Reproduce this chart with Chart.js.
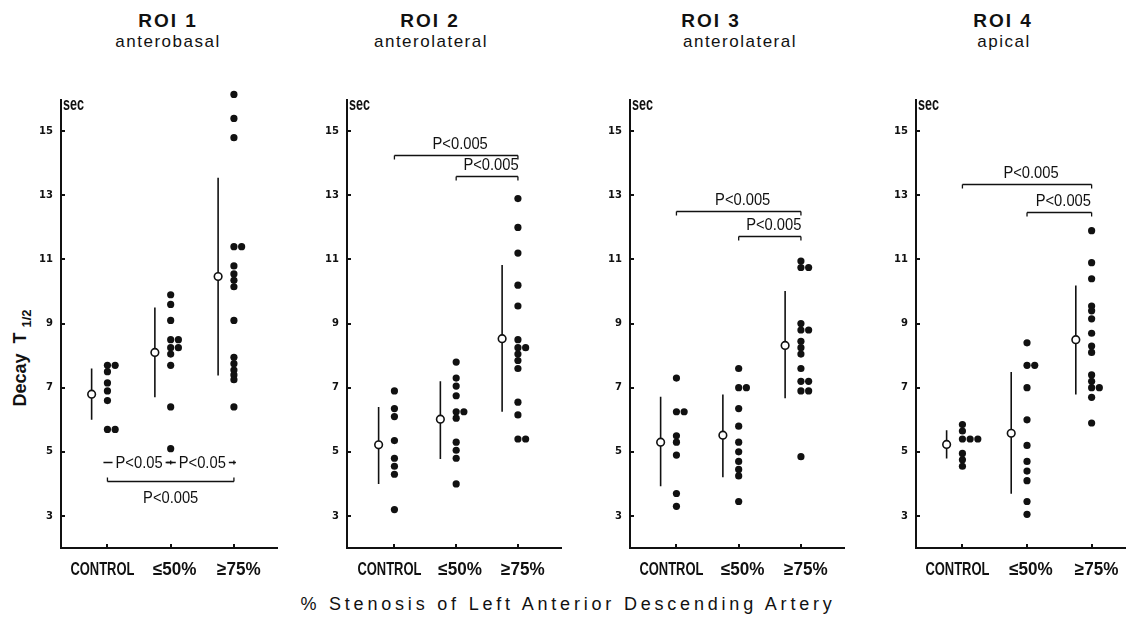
<!DOCTYPE html>
<html>
<head>
<meta charset="utf-8">
<script src="https://cdn.jsdelivr.net/npm/chart.js@4.4.1/dist/chart.umd.min.js"></script>
<style>
  html, body { margin: 0; padding: 0; background: #fff; }
  body { width: 1136px; height: 639px; position: relative; overflow: hidden;
         font-family: 'Liberation Sans', Arial, sans-serif; color: #111; }
  canvas { position: absolute; }
  .roi { position: absolute; width: 200px; text-align: center; font-weight: bold;
         font-size: 19px; line-height: 19px; letter-spacing: 2px; }
  .region { position: absolute; width: 200px; text-align: center;
            font-size: 17px; line-height: 17px; letter-spacing: 1.5px; }
  #ytitle { position: absolute; left: -50px; top: 346px; width: 140px; height: 24px;
            line-height: 24px; text-align: center; font-weight: bold; font-size: 18px;
            transform: rotate(-90deg); white-space: nowrap; }
  #ytitle sub { font-size: 13px; }
  #xtitle { position: absolute; left: 0; top: 595px; width: 1136px; text-align: center;
            font-size: 18px; line-height: 18px; letter-spacing: 3.8px; }
</style>
</head>
<body>
<div id="ytitle">Decay&nbsp;&nbsp;T&nbsp;<sub>1/2</sub></div>
<div id="xtitle">% Stenosis of Left Anterior Descending Artery</div>
<script>
// categories and ticks
const groups = ['CONTROL', '≤50%', '≥75%'];
const yTicks = [3, 5, 7, 9, 11, 13, 15];
const roiNames = ['ROI 1', 'ROI 2', 'ROI 3', 'ROI 4'];
const roiRegions = ['anterobasal', 'anterolateral', 'anterolateral', 'apical'];

// ROI 1 anterobasal
const roi1Control = [7.7, 7.7, 7.5, 7.15, 6.9, 6.6, 5.7, 5.7];
const roi1Le50 = [9.9, 9.6, 9.1, 8.5, 8.5, 8.25, 8.25, 8.05, 7.7, 6.4, 5.1];
const roi1Ge75 = [16.15, 15.4, 14.8, 11.4, 11.4, 10.8, 10.55, 10.35, 10.15, 9.1, 7.95, 7.75, 7.55, 7.4, 7.25, 6.4];
const roi1Mean = [6.8, 8.1, 10.47];
const roi1Low = [6.0, 6.7, 7.38];
const roi1High = [7.6, 9.5, 13.55];
const roi1Tests = [[1, 2, 4.68, 'P<0.05', 'inline'], [2, 3, 4.68, 'P<0.05', 'inline'], [1, 3, 4.08, 'P<0.005', 'below']];

// ROI 2 anterolateral
const roi2Control = [6.9, 6.35, 6.1, 5.35, 4.8, 4.55, 4.3, 3.2];
const roi2Le50 = [7.8, 7.3, 7.05, 6.75, 6.25, 6.25, 6.05, 5.3, 5.05, 4.8, 4.0];
const roi2Ge75 = [12.9, 12.0, 11.2, 10.2, 9.55, 8.5, 8.25, 8.25, 8.05, 7.85, 7.6, 6.55, 6.15, 5.4, 5.4];
const roi2Mean = [5.22, 6.02, 8.53];
const roi2Low = [4.0, 4.78, 6.25];
const roi2High = [6.4, 7.2, 10.83];
const roi2Tests = [[1, 3, 14.27, 'P<0.005', 'above'], [2, 3, 13.6, 'P<0.005', 'above']];

// ROI 3 anterolateral
const roi3Control = [7.3, 6.25, 6.25, 5.5, 5.3, 4.9, 3.7, 3.3];
const roi3Le50 = [7.6, 7.0, 7.0, 6.35, 5.8, 5.3, 5.0, 4.7, 4.45, 4.25, 3.45];
const roi3Ge75 = [10.95, 10.75, 10.75, 9.0, 8.8, 8.8, 8.45, 8.25, 8.05, 7.6, 7.2, 7.2, 6.9, 6.9, 4.85];
const roi3Mean = [5.3, 5.52, 8.32];
const roi3Low = [3.93, 4.21, 6.67];
const roi3High = [6.72, 6.79, 10.02];
const roi3Tests = [[1, 3, 12.51, 'P<0.005', 'above'], [2, 3, 11.73, 'P<0.005', 'above']];

// ROI 4 apical
const roi4Control = [5.85, 5.65, 5.4, 5.4, 5.4, 4.95, 4.75, 4.55];
const roi4Le50 = [8.4, 7.7, 7.7, 7.0, 6.0, 5.2, 4.7, 4.4, 4.1, 3.45, 3.05];
const roi4Ge75 = [11.9, 10.9, 10.4, 9.55, 9.4, 9.15, 8.7, 8.3, 8.1, 7.4, 7.2, 7.0, 7.0, 6.7, 5.9];
const roi4Mean = [5.23, 5.58, 8.5];
const roi4Low = [4.79, 3.69, 6.79];
const roi4High = [5.67, 7.49, 10.19];
const roi4Tests = [[1, 3, 13.36, 'P<0.005', 'above'], [2, 3, 12.48, 'P<0.005', 'above']];

// panel layout (pixels)
const panelAxisX = [61, 347, 630, 916];
const panelFirstCol = [108, 395, 677, 963];
const panelStep = [64, 62.5, 63, 65.4];
const titleX = [168, 430, 711, 1003];
const regionX = [168, 431, 740, 1004];
const labelShift = [-5, 4, 5];
const labelSqueeze = [0.72, 0.95, 0.95];

const ink = '#111';
const sans = '"Liberation Sans", Arial, sans-serif';
const axisTop = 16;

const rois = [
  { cols: [roi1Control, roi1Le50, roi1Ge75], mean: roi1Mean, low: roi1Low, high: roi1High, tests: roi1Tests },
  { cols: [roi2Control, roi2Le50, roi2Ge75], mean: roi2Mean, low: roi2Low, high: roi2High, tests: roi2Tests },
  { cols: [roi3Control, roi3Le50, roi3Ge75], mean: roi3Mean, low: roi3Low, high: roi3High, tests: roi3Tests },
  { cols: [roi4Control, roi4Le50, roi4Ge75], mean: roi4Mean, low: roi4Low, high: roi4High, tests: roi4Tests }
];

function seg(ctx, x1, y1, x2, y2) {
  ctx.beginPath(); ctx.moveTo(x1, y1); ctx.lineTo(x2, y2); ctx.stroke();
}

// condensed text: the original uses a narrow typeface
function squeeze(ctx, text, x, y, sx) {
  ctx.save();
  ctx.translate(x, y);
  ctx.scale(sx, 1);
  ctx.fillText(text, 0, 0);
  ctx.restore();
}

// y axis line, inward ticks, "sec", group labels and significance brackets
const roiMarks = {
  id: 'roiMarks',
  afterDatasetsDraw(chart, args, opts) {
    const { ctx, chartArea, scales: { x, y } } = chart;
    ctx.save();
    ctx.strokeStyle = ink;
    ctx.fillStyle = ink;
    ctx.lineWidth = 2;
    const top = Math.round(y.getPixelForValue(axisTop));
    seg(ctx, chartArea.left, top, chartArea.left, chartArea.bottom + 1);
    yTicks.forEach(v => {
      const py = Math.round(y.getPixelForValue(v));
      seg(ctx, chartArea.left, py, chartArea.left + 4, py);
    });
    [1, 2, 3].forEach(g => {
      const px = Math.round(x.getPixelForValue(g));
      seg(ctx, px, chartArea.bottom, px, chartArea.bottom - 4);
    });

    ctx.textBaseline = 'alphabetic';
    ctx.textAlign = 'left';
    ctx.font = 'bold 18px ' + sans;
    squeeze(ctx, 'sec', chartArea.left + 2, top + 11, 0.7);

    ctx.textAlign = 'center';
    groups.forEach((g, k) => {
      squeeze(ctx, g, x.getPixelForValue(k + 1) + labelShift[k], chartArea.bottom + 27, labelSqueeze[k]);
    });

    ctx.lineWidth = 1.3;
    ctx.font = '16px ' + sans;
    const sx = 0.92;
    opts.tests.forEach(([from, to, level, label, style]) => {
      const x1 = x.getPixelForValue(from);
      const x2 = x.getPixelForValue(to);
      const py = Math.round(y.getPixelForValue(level)) + 0.5;
      const cx = (x1 + x2) / 2;
      if (style === 'inline') {
        seg(ctx, x1 - 4, py, x2 + 2, py);
        seg(ctx, x2, py - 2, x2, py + 2);
        const w = ctx.measureText(label).width * sx;
        ctx.fillStyle = '#fff';
        ctx.fillRect(cx - w / 2 - 3, py - 8, w + 6, 16);
        ctx.fillStyle = ink;
        ctx.textBaseline = 'middle';
        squeeze(ctx, label, cx, py + 1, sx);
      } else if (style === 'below') {
        seg(ctx, x1, py, x2, py);
        seg(ctx, x1, py, x1, py - 4);
        seg(ctx, x2, py, x2, py - 4);
        ctx.textBaseline = 'top';
        squeeze(ctx, label, cx, py + 9, sx);
      } else {
        seg(ctx, x1, py, x2, py);
        seg(ctx, x1, py, x1, py + 4);
        seg(ctx, x2, py, x2, py + 4);
        ctx.textBaseline = 'alphabetic';
        squeeze(ctx, label, cx + 4, py - 7, sx);
      }
    });
    ctx.restore();
  }
};

rois.forEach((roi, i) => {
  const step = panelStep[i];
  const axisX = panelAxisX[i];
  const rightEnd = Math.min(panelFirstCol[i] + 2 * step + 44, 1128);
  const xMin = 1 - (panelFirstCol[i] - axisX) / step;
  const xMax = 3 + (rightEnd - panelFirstCol[i] - 2 * step) / step;
  const yAxisW = 50;

  const dots = [];
  roi.cols.forEach((vals, g) => {
    const seen = {};
    vals.forEach(v => {
      const k = v.toFixed(2);
      const c = seen[k] || 0;
      seen[k] = c + 1;
      dots.push({ x: g + 1 + c * 7.8 / step, y: v });
    });
  });
  const meanOff = 16 / step;
  const means = roi.mean.map((m, g) => ({ x: g + 1 - meanOff, y: m }));
  const bars = [];
  roi.mean.forEach((m, g) => {
    const bx = g + 1 - meanOff;
    bars.push({ x: bx, y: roi.low[g] }, { x: bx, y: roi.high[g] }, { x: bx, y: null });
  });

  const canvas = document.createElement('canvas');
  canvas.width = Math.round(rightEnd - axisX + yAxisW + 3);
  canvas.height = 513;
  canvas.style.left = (axisX - yAxisW) + 'px';
  canvas.style.top = '80px';
  document.body.appendChild(canvas);

  const t = document.createElement('div');
  t.className = 'roi';
  t.textContent = roiNames[i];
  t.style.left = (titleX[i] - 100) + 'px';
  t.style.top = '11px';
  document.body.appendChild(t);
  const r = document.createElement('div');
  r.className = 'region';
  r.textContent = roiRegions[i];
  r.style.left = (regionX[i] - 100) + 'px';
  r.style.top = '33px';
  document.body.appendChild(r);

  new Chart(canvas, {
    type: 'scatter',
    data: {
      datasets: [
        { data: means, pointRadius: 3.8, backgroundColor: '#fff', borderColor: ink, borderWidth: 1.6 },
        { data: dots, pointRadius: 3.6, backgroundColor: ink, borderWidth: 0 },
        { type: 'line', data: bars, borderColor: ink, borderWidth: 1.6, pointRadius: 0, spanGaps: false, fill: false }
      ]
    },
    options: {
      responsive: false,
      animation: false,
      events: [],
      layout: { padding: { top: 6.4, right: 3, left: 0, bottom: 0 } },
      plugins: { legend: { display: false }, tooltip: { enabled: false }, roiMarks: { tests: roi.tests } },
      scales: {
        x: {
          type: 'linear', min: xMin, max: xMax,
          afterBuildTicks: s => { s.ticks = [1, 2, 3].map(v => ({ value: v })); },
          afterFit: s => { s.height = 45; s.paddingLeft = 0; s.paddingRight = 0; },
          grid: { display: false, drawTicks: false },
          border: { display: true, width: 2, color: ink },
          ticks: { display: false }
        },
        y: {
          min: 2, max: 16.4,
          afterBuildTicks: s => { s.ticks = yTicks.map(v => ({ value: v })); },
          afterFit: s => { s.width = yAxisW; s.paddingTop = 0; s.paddingBottom = 0; },
          grid: { display: false, drawTicks: false },
          border: { display: false },
          ticks: { padding: 8, color: ink, font: { family: 'DejaVu Sans', weight: 'bold', size: 10 } }
        }
      }
    },
    plugins: [roiMarks]
  });
});
</script>
</body>
</html>
